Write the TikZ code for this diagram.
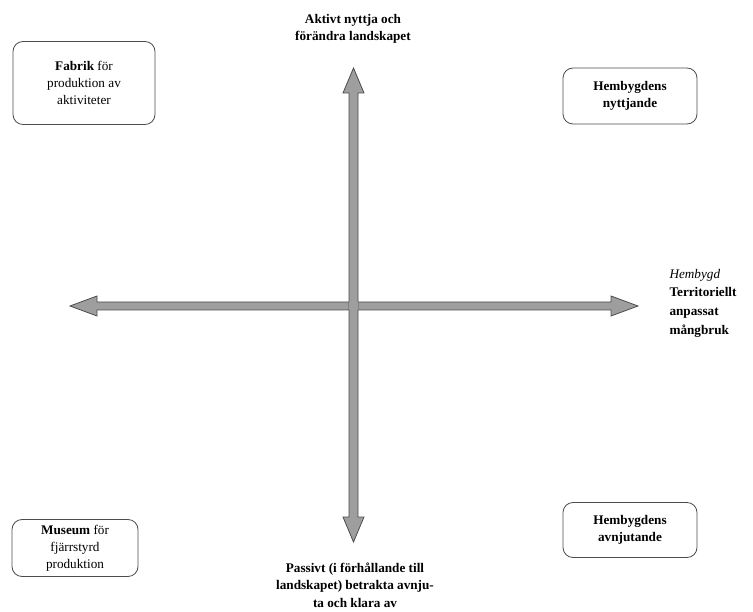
\documentclass[tikz,border=0pt]{standalone}
\usepackage{fontspec}
\setmainfont{Liberation Serif}
\usepackage{tikz}
\usetikzlibrary{calc}

\begin{document}
\begin{tikzpicture}[x=1pt, y=-1pt,
    every node/.style={anchor=center, font=\fontsize{13.2}{17}\selectfont},
    ruta/.style={draw=black!70, rounded corners=10pt, line width=0.8pt, align=center, inner sep=2pt},
    etikett/.style={align=center, font=\fontsize{13.2}{17.5}\selectfont\bfseries},
    axel/.style={fill=black!38, draw=black!70, line width=0.8pt, line join=miter}]
    \useasboundingbox (0,0) rectangle (753,612);
    % Mittpunkt och axlarnas ändar
    \coordinate (o) at (353.5,306);
    \coordinate (upp) at (353.5,68);
    \coordinate (ned) at (353.5,542);
    \coordinate (vanster) at (70,306);
    \coordinate (hoger) at (638,306);
    % Vågrät axel
    \draw[axel] (vanster) -- ++(27,-10) -- ++(0,6) -- ($(hoger)+(-27,-4)$) -- ++(0,-6)
        -- (hoger) -- ++(-27,10) -- ++(0,-6) -- ($(vanster)+(27,4)$) -- ++(0,6) -- cycle;
    % Lodrät axel
    \draw[axel] (upp) -- ++(10.5,25) -- ++(-6,0) -- ($(ned)+(4.5,-25)$) -- ++(6,0)
        -- (ned) -- ++(-10.5,-25) -- ++(6,0) -- ($(upp)+(-4.5,25)$) -- ++(-6,0) -- cycle;
    % Korsningen
    \fill[black!38] ($(o)+(-4.1,-3.6)$) rectangle ($(o)+(4.1,3.6)$);
    % Rutor i hörnen
    \node[ruta, minimum width=142pt, minimum height=83pt] (fabrik) at (84,83)
        {\textbf{Fabrik} för\\produktion av\\aktiviteter};
    \node[ruta, minimum width=134pt, minimum height=56pt] (nyttjande) at (630,96)
        {\textbf{Hembygdens}\\\textbf{nyttjande}};
    \node[ruta, minimum width=126pt, minimum height=57pt] (museum) at (75,548)
        {\textbf{Museum} för\\fjärrstyrd\\produktion};
    \node[ruta, minimum width=134pt, minimum height=55pt] (avnjutande) at (630,530)
        {\textbf{Hembygdens}\\\textbf{avnjutande}};
    % Axlarnas etiketter
    \node[etikett] (aktivt) at (353,29) {Aktivt nyttja och\\förändra landskapet};
    \node[etikett] (passivt) at (355,585)
        {Passivt (i förhållande till\\landskapet) betrakta avnju-\\ta och klara av};
    \node[align=left, anchor=west, font=\fontsize{13.2}{18.7}\selectfont] (hembygd) at (666,303)
        {\textit{Hembygd}\\\textbf{Territoriellt}\\\textbf{anpassat}\\\textbf{mångbruk}};
\end{tikzpicture}
\end{document}
